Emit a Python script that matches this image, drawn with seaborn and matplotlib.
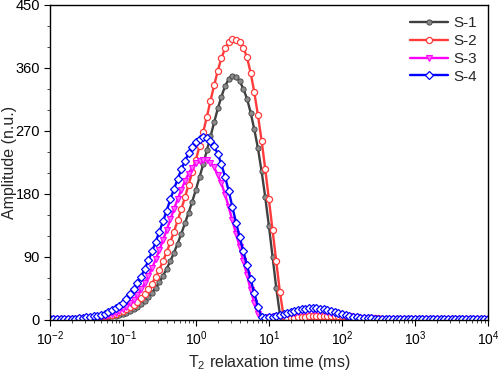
import numpy as np
import pandas as pd
import matplotlib
matplotlib.use("Agg")
import matplotlib.pyplot as plt
from matplotlib.ticker import MultipleLocator, LogLocator, FixedLocator
import seaborn as sns

# T2 grid of the inversion (log-spaced, 20 points per decade, 0.01 - 10000 ms)
t2 = np.logspace(-2, 4, 121)

s1 = [2, 2, 2, 2, 2, 2, 2, 2,
      2.2, 2.3, 2.4, 2.6, 2.8, 3.1, 3.5, 4.0, 4.5, 5.2, 6.0, 7.2, 8.5, 10.3, 12.5, 15.3, 18.5, 22.5,
      27, 32.5, 39, 46, 54, 63, 73, 84, 96, 109, 123, 138, 153, 169, 186, 204, 222, 242, 262, 282,
      302, 319, 334, 344, 349, 347, 341, 330, 316, 296, 272, 245, 212, 175, 134, 90, 46, 8, 2] + [2] * 56

s2 = [2, 2, 2, 2, 2, 2, 2, 2,
      2.5, 2.7, 3.0, 3.4, 3.8, 4.4, 5.0, 5.7, 6.5, 7.7, 9.0, 10.7, 12.5, 15, 18, 21.5, 26, 31,
      37, 44, 52, 61.5, 72, 84, 97, 111, 126, 142, 158, 175, 193, 211, 229, 248, 268, 290, 313, 335,
      356, 374, 388, 397, 401, 400, 397, 389, 375, 353, 325, 292, 256, 215, 172, 128, 84, 40, 6,
      2.5, 3.1, 3.4, 3.8, 4.2, 4.6, 5.0, 5.3, 5.6, 5.8, 5.95, 6.0, 5.95, 5.8, 5.6, 5.3, 5.0, 4.6,
      4.2, 3.8, 3.4, 3.1, 2.8, 2.6, 2.4, 2.3] + [2] * 30

s3 = [2, 2, 2, 2, 2, 2, 2, 2, 2, 2,
      2.6, 2.9, 3.3, 3.8, 4.5, 5.4, 6.6, 8.0, 10, 12.5, 15.5, 19, 23.5, 29, 35.5, 43.5, 52.5, 62.5,
      74, 86.5, 100, 114, 128.5, 143.5, 158, 172.5, 186, 198, 209, 217.5, 224, 227.5, 229, 228,
      224, 218, 207, 195, 179, 161, 142, 123, 104, 84, 64, 43, 24, 8, 2,
      2.5, 3.6, 4.2, 5.0, 5.9, 6.9, 8.1, 9.3, 10.5, 11.6, 12.6, 13.4, 13.8, 14.0, 13.8, 13.4, 12.6,
      11.6, 10.5, 9.3, 8.1, 6.9, 5.9, 5.0, 4.2, 3.6, 3.1, 2.8, 2.5, 2.3] + [2] * 32

s4 = [2, 2, 2, 2, 2, 2, 2, 2,
      3.0, 3.3, 3.8, 4.4, 5.2, 6.2, 7.5, 9.0, 11.0, 13.5, 16.5, 20, 24.5, 30, 36.5, 44, 52.5, 62,
      73, 85, 98, 111.5, 126, 141, 156, 172, 187, 201, 215, 227, 238, 247, 254, 258.5, 261, 260.5,
      256, 248, 237, 222, 204, 184, 161, 139, 118, 98, 78, 58, 38, 19, 4,
      3, 4, 4.8, 5.7, 6.9, 8.2, 9.6, 11.1, 12.6, 14.0, 15.2, 16.2, 16.8, 17, 16.8, 16.2, 15.2, 14.0,
      12.6, 11.1, 9.6, 8.2, 6.9, 5.7, 4.8, 4.0, 3.4, 3.0, 2.7, 2.4] + [2] * 32

labels = ["S-1", "S-2", "S-3", "S-4"]
series = [s1, s2, s3, s4]
x_major_ticks = [1e-2, 1e-1, 1e0, 1e1, 1e2, 1e3, 1e4]

sns.set_style("ticks")
plt.rcParams["font.family"] = ["Liberation Sans", "DejaVu Sans"]
plt.rcParams["mathtext.fontset"] = "custom"
plt.rcParams["mathtext.rm"] = "Liberation Sans"
plt.rcParams["mathtext.it"] = "Liberation Sans:italic"
plt.rcParams["mathtext.bf"] = "Liberation Sans:bold"

fig = plt.figure(figsize=(4.98, 3.72), dpi=100)
ax = fig.add_axes([0.100, 0.140, 0.880, 0.847])

styles = [
    dict(color="#404040", marker="o", markersize=3.8, markerfacecolor="#8a8a8a",
         markeredgecolor="#404040", markeredgewidth=0.6),
    dict(color="#ff3b3b", marker="o", markersize=4.4, markerfacecolor="white",
         markeredgecolor="#ff3b3b", markeredgewidth=0.9),
    dict(color="#ff00ff", marker="v", markersize=4.4, markerfacecolor="#ff66ff",
         markeredgecolor="#ff00ff", markeredgewidth=0.8),
    dict(color="#0000ff", marker="D", markersize=3.8, markerfacecolor="white",
         markeredgecolor="#0000ff", markeredgewidth=0.9),
]

for lab, vals, st in zip(labels, series, styles):
    df = pd.DataFrame({"t2": t2, "amp": vals})
    sns.lineplot(data=df, x="t2", y="amp", ax=ax, label=lab, linewidth=1.7,
                 sort=False, estimator=None, **st)

ax.set_xscale("log")
ax.set_xlim(1e-2, 1e4)
ax.set_ylim(0, 450)
ax.yaxis.set_major_locator(MultipleLocator(90))
ax.yaxis.set_minor_locator(MultipleLocator(30))
ax.xaxis.set_major_locator(FixedLocator(x_major_ticks))
ax.xaxis.set_minor_locator(LogLocator(base=10, subs=np.arange(2, 10), numticks=20))

ax.tick_params(axis="both", which="major", direction="out", length=4.5, width=0.8,
               colors="black", top=False, right=False, pad=2.5)
ax.tick_params(axis="y", which="major", labelsize=10.5)
ax.tick_params(axis="x", which="major", labelsize=10)
ax.tick_params(axis="both", which="minor", direction="out", length=2.5, width=0.6,
               top=False, right=False)
for sp in ax.spines.values():
    sp.set_visible(True)
    sp.set_linewidth(1.0)
    sp.set_color("black")

ax.set_xlabel(r"T$_2$ relaxation time (ms)", fontsize=11.5)
ax.set_ylabel("Amplitude (n.u.)", fontsize=11.5)
ax.yaxis.set_label_coords(-0.075, 0.5)
ax.xaxis.set_label_coords(0.5, -0.105)

leg = ax.legend(loc="upper right", frameon=False, fontsize=11, handlelength=2.5,
                handletextpad=0.3, labelspacing=0.25, borderaxespad=0.35)

fig.savefig("out.png", dpi=100)
